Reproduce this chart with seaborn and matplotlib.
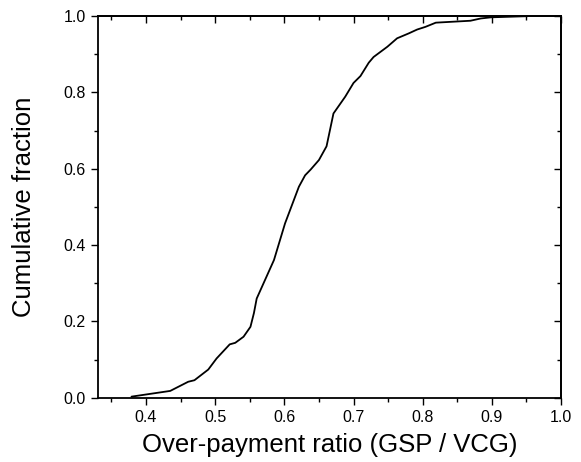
import matplotlib
matplotlib.use("Agg")
import matplotlib.pyplot as plt
import seaborn as sns
import pandas as pd
from matplotlib.ticker import MultipleLocator, FormatStrFormatter

ratio = [0.379, 0.435, 0.461, 0.470, 0.490, 0.502, 0.521, 0.529, 0.541, 0.551,
         0.556, 0.560, 0.585, 0.601, 0.621, 0.630, 0.638, 0.650, 0.661, 0.671,
         0.688, 0.700, 0.710, 0.722, 0.729, 0.749, 0.763, 0.780, 0.792, 0.804,
         0.819, 0.869, 0.884, 0.899, 0.952]
cumfrac = [0.003, 0.018, 0.042, 0.046, 0.074, 0.103, 0.140, 0.144, 0.160, 0.186,
           0.222, 0.260, 0.361, 0.457, 0.553, 0.583, 0.598, 0.623, 0.659, 0.745,
           0.789, 0.825, 0.843, 0.878, 0.893, 0.920, 0.942, 0.955, 0.965, 0.972,
           0.983, 0.988, 0.994, 0.997, 1.000]

df = pd.DataFrame({"ratio": ratio, "cum": cumfrac})

sns.set_theme(style="white")
plt.rcParams['font.family'] = ['Liberation Sans', 'DejaVu Sans']

fig = plt.figure(figsize=(5.81, 4.62), dpi=100)
ax = fig.add_axes([0.168, 0.139, 0.7976, 0.826])
sns.lineplot(data=df, x="ratio", y="cum", ax=ax, color="black", linewidth=1.3,
             estimator=None, sort=False)

ax.set_xlim(0.33, 1.0)
ax.set_ylim(0.0, 1.0)
ax.xaxis.set_major_locator(MultipleLocator(0.1))
ax.xaxis.set_minor_locator(MultipleLocator(0.05))
ax.yaxis.set_major_locator(MultipleLocator(0.2))
ax.yaxis.set_minor_locator(MultipleLocator(0.1))
ax.xaxis.set_major_formatter(FormatStrFormatter('%.1f'))
ax.yaxis.set_major_formatter(FormatStrFormatter('%.1f'))

for s in ax.spines.values():
    s.set_color("black")
    s.set_linewidth(1.3)

ax.tick_params(which='both', direction='out', bottom=True, left=True,
               top=False, right=False, color='black', width=1.0,
               labelsize=11.5, labelcolor='black')
ax.tick_params(which='major', length=5)
ax.tick_params(which='minor', length=3)

# mirrored inward ticks on top/right
ax2 = ax.secondary_xaxis('top')
ax2.xaxis.set_major_locator(MultipleLocator(0.1))
ax2.xaxis.set_minor_locator(MultipleLocator(0.05))
ax2.tick_params(which='both', direction='in', labeltop=False, color='black', width=1.0)
ax2.tick_params(which='major', length=5)
ax2.tick_params(which='minor', length=3)
ax3 = ax.secondary_yaxis('right')
ax3.yaxis.set_major_locator(MultipleLocator(0.2))
ax3.yaxis.set_minor_locator(MultipleLocator(0.1))
ax3.tick_params(which='both', direction='in', labelright=False, color='black', width=1.0)
ax3.tick_params(which='major', length=5)
ax3.tick_params(which='minor', length=3)
for a in (ax2, ax3):
    for s in a.spines.values():
        s.set_linewidth(1.3)
        s.set_color("black")

ax.set_xlabel("Over-payment ratio (GSP / VCG)", fontsize=18.5, color='black', labelpad=6)
ax.set_ylabel("Cumulative fraction", fontsize=18.5, color='black', labelpad=20)

fig.savefig("out.png", dpi=100)
